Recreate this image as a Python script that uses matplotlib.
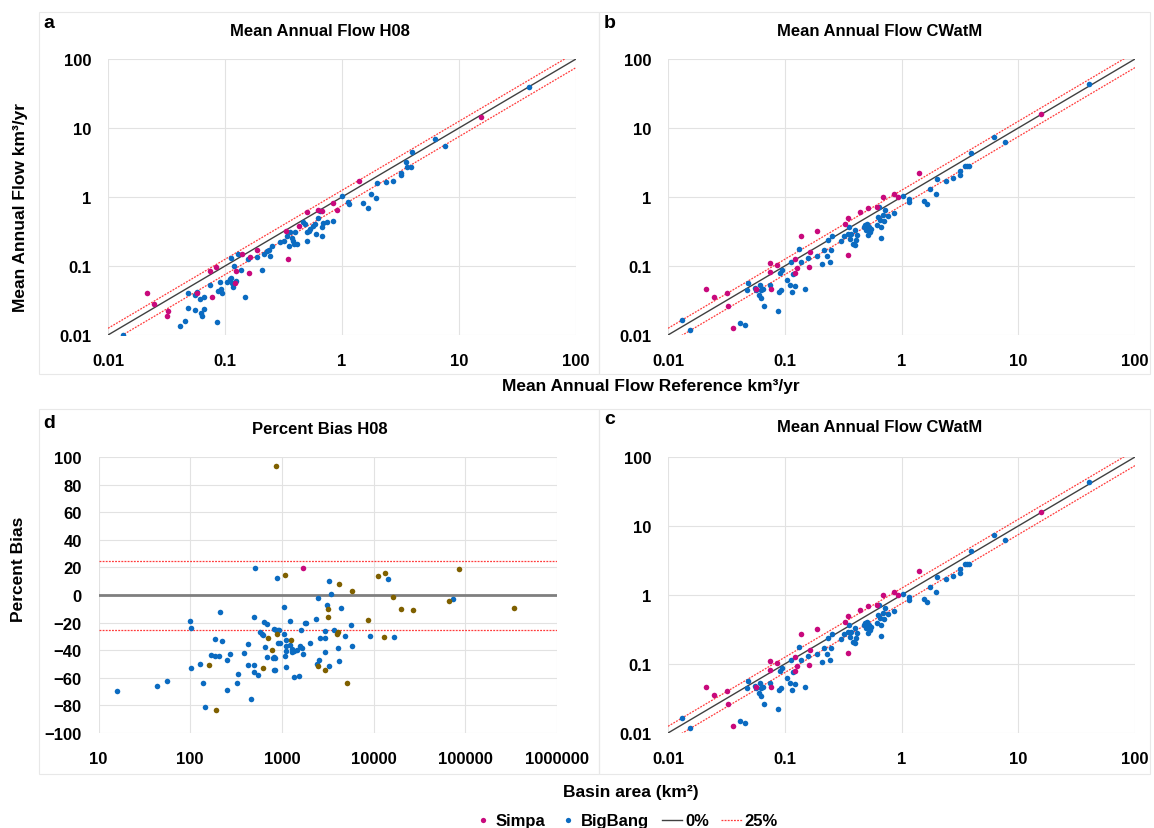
import numpy as np
import matplotlib
matplotlib.use('Agg')
import matplotlib.pyplot as plt
from matplotlib.patches import Rectangle
from matplotlib.lines import Line2D

plt.rcParams['font.family'] = ['Liberation Sans', 'DejaVu Sans']
plt.rcParams['font.weight'] = 'bold'

# Panel a: H08 mean annual flow (km3/yr), reference vs simulated
h08_simpa_ref = [0.0214, 0.0246, 0.0328, 0.032, 0.058, 0.075, 0.084, 0.077, 0.121, 0.125,
                 0.139, 0.16, 0.163, 0.188, 0.345, 0.33, 0.425, 0.5, 0.62, 0.67,
                 0.84, 0.91, 1.4, 15.4]
h08_simpa_sim = [0.040, 0.0285, 0.022, 0.019, 0.041, 0.084, 0.096, 0.036, 0.056, 0.084,
                 0.147, 0.078, 0.137, 0.17, 0.128, 0.32, 0.38, 0.6, 0.65, 0.62,
                 0.83, 0.65, 1.68, 14.3]
h08_bigbang_ref = [0.0134, 0.041, 0.0454, 0.086, 0.0479, 0.0552, 0.062, 0.063, 0.066, 0.0479,
                   0.0552, 0.058, 0.0614, 0.066, 0.0746, 0.0873, 0.0949, 0.092, 0.090, 0.105,
                   0.110, 0.115, 0.118, 0.123, 0.113, 0.112, 0.119, 0.136, 0.129, 0.148,
                   0.158, 0.188, 0.208, 0.214, 0.229, 0.237, 0.244, 0.252, 0.297, 0.317,
                   0.339, 0.350, 0.361, 0.373, 0.386, 0.399, 0.412, 0.381, 0.463, 0.485,
                   0.501, 0.518, 0.535, 0.501, 0.570, 0.590, 0.601, 0.629, 0.650, 0.672,
                   0.672, 0.694, 0.741, 0.834, 0.993, 1.13, 1.14, 1.5, 1.67, 1.78,
                   1.97, 2.0, 2.4, 2.75, 3.2, 3.2, 3.5, 3.6, 3.9, 4.0,
                   6.2, 7.6, 40]
h08_bigbang_sim = [0.0099, 0.0134, 0.0160, 0.0155, 0.0247, 0.0231, 0.0211, 0.0189, 0.0242, 0.041,
                   0.0377, 0.042, 0.033, 0.036, 0.0527, 0.0436, 0.0403, 0.046, 0.0589, 0.0589,
                   0.0658, 0.0575, 0.050, 0.061, 0.068, 0.131, 0.100, 0.088, 0.147, 0.036,
                   0.126, 0.133, 0.087, 0.149, 0.166, 0.170, 0.141, 0.196, 0.224, 0.232,
                   0.274, 0.196, 0.313, 0.251, 0.207, 0.307, 0.207, 0.232, 0.428, 0.405,
                   0.307, 0.324, 0.343, 0.232, 0.384, 0.405, 0.290, 0.490, 0.633, 0.363,
                   0.274, 0.419, 0.428, 0.453, 1.045, 0.84, 0.80, 0.83, 0.69, 1.1,
                   0.97, 1.62, 1.67, 1.7, 2.05, 2.2, 3.2, 2.75, 2.75, 4.45,
                   6.9, 5.4, 39]

# Panels b and c: CWatM mean annual flow (same data in both panels)
cwatm_simpa_ref = [0.0213, 0.0246, 0.0318, 0.0326, 0.036, 0.057, 0.075, 0.085, 0.075, 0.077,
                   0.122, 0.123, 0.128, 0.139, 0.162, 0.166, 0.19, 0.33, 0.345, 0.35,
                   0.44, 0.52, 0.62, 0.69, 0.87, 0.93, 1.4, 15.6]
cwatm_simpa_sim = [0.046, 0.035, 0.0405, 0.0263, 0.0128, 0.047, 0.11, 0.105, 0.082, 0.047,
                   0.128, 0.079, 0.094, 0.27, 0.097, 0.16, 0.32, 0.41, 0.49, 0.143,
                   0.61, 0.70, 0.72, 1.0, 1.1, 1.0, 2.2, 16]
cwatm_bigbang_ref = [0.0132, 0.0155, 0.041, 0.0454, 0.0485, 0.0478, 0.0553, 0.0572, 0.061, 0.063,
                     0.0652, 0.0598, 0.0622, 0.0665, 0.0749, 0.0877, 0.0889, 0.0936, 0.0912, 0.0948,
                     0.105, 0.110, 0.114, 0.118, 0.116, 0.123, 0.132, 0.137, 0.149, 0.158,
                     0.19, 0.209, 0.217, 0.232, 0.235, 0.243, 0.251, 0.256, 0.306, 0.323,
                     0.349, 0.354, 0.363, 0.373, 0.385, 0.398, 0.398, 0.411, 0.419, 0.479,
                     0.485, 0.501, 0.508, 0.518, 0.525, 0.535, 0.553, 0.611, 0.631, 0.64,
                     0.652, 0.674, 0.697, 0.71, 0.72, 0.674, 0.759, 0.865, 1.03, 1.15,
                     1.15, 1.55, 1.65, 1.75, 1.98, 2.0, 2.4, 2.75, 3.2, 3.2,
                     3.5, 3.65, 3.8, 3.9, 6.2, 7.7, 40]
cwatm_bigbang_sim = [0.0163, 0.0119, 0.0151, 0.014, 0.0568, 0.0444, 0.0485, 0.0454, 0.0525, 0.0454,
                     0.0469, 0.0376, 0.0344, 0.026, 0.0536, 0.022, 0.042, 0.0454, 0.0793, 0.0865,
                     0.0634, 0.0536, 0.113, 0.0775, 0.042, 0.0507, 0.176, 0.116, 0.0465, 0.131,
                     0.140, 0.108, 0.171, 0.141, 0.238, 0.116, 0.172, 0.269, 0.230, 0.269,
                     0.294, 0.367, 0.249, 0.294, 0.211, 0.2, 0.329, 0.236, 0.278, 0.367,
                     0.388, 0.329, 0.41, 0.278, 0.367, 0.311, 0.347, 0.388, 0.513, 0.716,
                     0.459, 0.367, 0.542, 0.449, 0.641, 0.258, 0.525, 0.586, 1.05, 0.95,
                     0.85, 0.87, 0.79, 1.3, 1.1, 1.8, 1.7, 1.9, 2.4, 2.1,
                     2.8, 2.8, 2.85, 4.4, 7.3, 6.3, 43]

# Panel d: percent bias H08 vs basin area (km2)
pb_bigbang_area = [16, 43, 56, 100, 102, 103, 128, 137, 144, 169,
                   187, 188, 208, 210, 224, 255, 255, 270, 321, 335,
                   389, 430, 430, 460, 491, 500, 500, 513, 553, 575,
                   600, 625, 646, 659, 690, 690, 790, 810, 820, 820,
                   845, 850, 860, 890, 905, 910, 940, 945, 1050, 1060,
                   1090, 1095, 1100, 1115, 1115, 1213, 1213, 1280, 1300, 1340,
                   1340, 1470, 1520, 1560, 1610, 1650, 1720, 1780, 1840, 2000,
                   2370, 2400, 2490, 2530, 2620, 2950, 2950, 2970, 3100, 3280,
                   3300, 3430, 3660, 4070, 4170, 4440, 4820, 5610, 5800, 9120,
                   14300, 16700, 72800]
pb_bigbang_bias = [-69.5, -66, -62.4, -19, -23.8, -53, -50, -63.6, -81, -43.6,
                   -44.3, -32, -44.5, -12.4, -33, -47, -69, -43, -64, -57,
                   -42, -35.7, -51, -75, -51, -55.5, -15.7, 19.5, -58, -27,
                   -28.5, -29, -19.3, -37.6, -20.7, -44.8, -45.5, -24.5, -44.8, -54,
                   -54.6, -45.6, -25, 12.6, -25.5, -35, -25.5, -35, -8.8, -28.6,
                   -44.4, -40.8, -32.3, -52, -36.6, -18.9, -36, -39, -41.5, -59.5,
                   -40.5, -40, -59, -36.7, -25, -38.3, -42.5, -20.1, -20.1, -34.7,
                   -17.7, -50, -1.9, -46.8, -31.5, -31, -41.3, -26.2, -7, -51.7,
                   10, 0.5, -25.5, -38.3, -47.6, -9.2, -29.9, -21.6, -36.9, -29.9,
                   11.9, -30.3, -2.7]
pb_other_area = [161, 190, 617, 710, 778, 873, 883, 1070, 1265, 2490,
                 2970, 3180, 3210, 4000, 4100, 4150, 5120, 5850, 8600, 11100,
                 13000, 13200, 16100, 19900, 26600, 65800, 84600, 342000]
pb_other_bias = [-50.5, -83, -52.6, -31.4, -39.8, 93.7, -27.9, 14.3, -32.8, -51.2,
                 -54, -10, -15.8, -27.9, -27, 7.8, -63.8, 2.7, -18.4, 13.8,
                 -30.3, 16.3, -1.5, -10.2, -11.2, -4.4, 18.7, -9.6]
pb_simpa_area = [1680]
pb_simpa_bias = [19.4]

flow_ticks = [0.01, 0.1, 1, 10, 100]
flow_labels = ['0.01', '0.1', '1', '10', '100']
area_ticks = [10, 100, 1000, 10000, 100000, 1000000]
area_labels = ['10', '100', '1000', '10000', '100000', '1000000']
bias_ticks = list(range(-100, 101, 20))

C_SIMPA = '#C8097C'
C_BIG = '#0B6BC1'
C_OTHER = '#7F6000'
C_RED = '#FF3B3B'
C_GRID = '#E2E2E2'
DOT = 16

W, H = 1154, 829
fig = plt.figure(figsize=(W / 100, H / 100), dpi=100)


def px_axes(l, t, r, b):
    return fig.add_axes([l / W, 1 - b / H, (r - l) / W, (b - t) / H])


def px_text(x, y, s, **kw):
    fig.text(x / W, 1 - y / H, s, **kw)


# panel frames
for (l, t, r, b) in [(39, 13, 599, 375), (599, 13, 1150, 375),
                     (39, 410, 599, 775), (599, 410, 1150, 775)]:
    fig.patches.append(Rectangle((l / W, 1 - b / H), (r - l) / W, (b - t) / H,
                                 transform=fig.transFigure, fill=False,
                                 edgecolor='#E8E8E8', lw=0.8))


def style(ax):
    for sp in ax.spines.values():
        sp.set_visible(False)
    ax.grid(True, color=C_GRID, lw=0.8)
    ax.set_axisbelow(True)
    ax.tick_params(length=0, labelsize=12)
    ax.tick_params(axis='x', pad=13)
    ax.tick_params(axis='y', pad=12)


def flow_panel(ax, s_ref, s_sim, b_ref, b_sim):
    ax.set_xscale('log')
    ax.set_yscale('log')
    xs = np.array([0.01, 100])
    ax.plot(xs, xs * 1.25, color=C_RED, lw=0.9, ls=(0, (1.5, 1)))
    ax.plot(xs, xs * 0.75, color=C_RED, lw=0.9, ls=(0, (1.5, 1)))
    ax.plot(xs, xs, color='#404040', lw=1.0)
    ax.scatter(b_ref, b_sim, s=DOT, color=C_BIG, lw=0, zorder=3)
    ax.scatter(s_ref, s_sim, s=DOT, color=C_SIMPA, lw=0, zorder=3)
    ax.set_xlim(0.01, 100)
    ax.set_ylim(0.01, 100)
    ax.set_xticks(flow_ticks)
    ax.set_xticklabels(flow_labels)
    ax.set_yticks(flow_ticks)
    ax.set_yticklabels(flow_labels)
    ax.minorticks_off()
    style(ax)


ax_a = px_axes(108, 60, 576, 336)
flow_panel(ax_a, h08_simpa_ref, h08_simpa_sim, h08_bigbang_ref, h08_bigbang_sim)
ax_b = px_axes(668, 60, 1135, 336)
flow_panel(ax_b, cwatm_simpa_ref, cwatm_simpa_sim, cwatm_bigbang_ref, cwatm_bigbang_sim)
ax_c = px_axes(668, 458, 1135, 734)
flow_panel(ax_c, cwatm_simpa_ref, cwatm_simpa_sim, cwatm_bigbang_ref, cwatm_bigbang_sim)

ax_d = px_axes(98.5, 458, 557, 734)
ax_d.set_xscale('log')
ax_d.axhline(0, color='#7F7F7F', lw=2)
ax_d.axhline(25, color=C_RED, lw=0.9, ls=(0, (1.5, 1)))
ax_d.axhline(-25, color=C_RED, lw=0.9, ls=(0, (1.5, 1)))
ax_d.scatter(pb_bigbang_area, pb_bigbang_bias, s=DOT, color=C_BIG, lw=0, zorder=3)
ax_d.scatter(pb_other_area, pb_other_bias, s=DOT, color=C_OTHER, lw=0, zorder=3)
ax_d.scatter(pb_simpa_area, pb_simpa_bias, s=DOT, color=C_SIMPA, lw=0, zorder=3)
ax_d.set_xlim(10, 1e6)
ax_d.set_ylim(-100, 100)
ax_d.set_xticks(area_ticks)
ax_d.set_xticklabels(area_labels)
ax_d.set_yticks(bias_ticks)
ax_d.minorticks_off()
style(ax_d)

# titles, letters, axis labels
px_text(320, 32, 'Mean Annual Flow H08', ha='center', va='center', fontsize=12)
px_text(880, 32, 'Mean Annual Flow CWatM', ha='center', va='center', fontsize=12)
px_text(320, 429, 'Percent Bias H08', ha='center', va='center', fontsize=12)
px_text(880, 428, 'Mean Annual Flow CWatM', ha='center', va='center', fontsize=12)
for x, y, s in [(49, 24, 'a'), (610, 24, 'b'), (49, 423, 'd'), (610, 420, 'c')]:
    px_text(x, y, s, ha='center', va='center', fontsize=14)

px_text(21, 208, 'Mean Annual Flow km³/yr', ha='center', va='center', rotation=90, fontsize=12.5)
px_text(19, 569, 'Percent Bias', ha='center', va='center', rotation=90, fontsize=12.5)
px_text(502, 387, 'Mean Annual Flow Reference km³/yr', ha='left', va='center', fontsize=12.5)
px_text(563, 793, 'Basin area (km²)', ha='left', va='center', fontsize=12.5)

handles = [
    Line2D([], [], ls='none', marker='o', ms=3.8, mfc=C_SIMPA, mec='none'),
    Line2D([], [], ls='none', marker='o', ms=3.8, mfc=C_BIG, mec='none'),
    Line2D([], [], color='#404040', lw=1.0),
    Line2D([], [], color=C_RED, lw=0.9, ls=(0, (1.5, 1))),
]
fig.legend(handles, ['Simpa', 'BigBang', '0%', '25%'], loc='center',
           bbox_to_anchor=(625 / W, 1 - 822 / H), ncol=4, frameon=False,
           fontsize=12, handlelength=1.25, handletextpad=0.15, columnspacing=0.75)

fig.savefig('out.png', dpi=100)
